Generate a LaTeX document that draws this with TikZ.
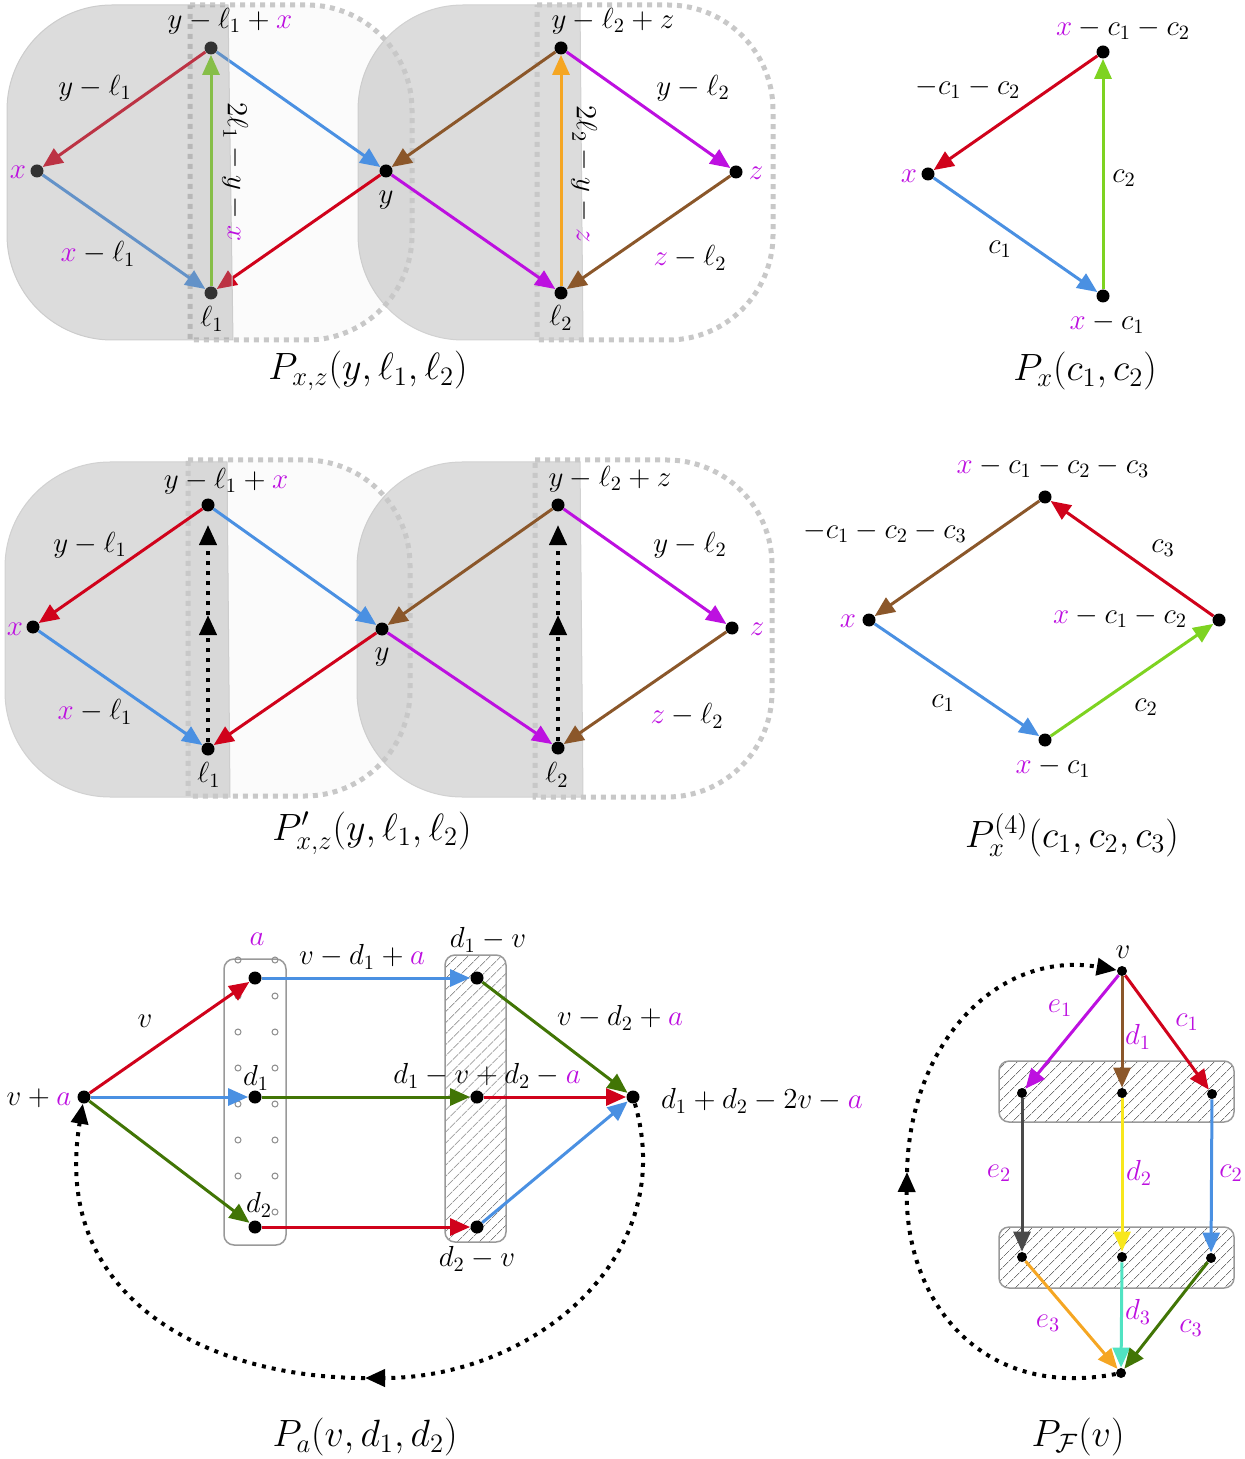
\RequirePackage{fix-cm}
\documentclass[tikz,border=0pt]{standalone}
\usetikzlibrary{arrows.meta,patterns.meta}
\definecolor{cred}{HTML}{D0021B}
\definecolor{cblue}{HTML}{4A90E2}
\definecolor{cgreen}{HTML}{7ED321}
\definecolor{cdgreen}{HTML}{417505}
\definecolor{corange}{HTML}{F5A623}
\definecolor{cbrown}{HTML}{8B572A}
\definecolor{cpurple}{HTML}{BD10E0}
\definecolor{cyellow}{HTML}{F8E71C}
\definecolor{cturq}{HTML}{50E3C2}
\definecolor{cdgray}{HTML}{4A4A4A}
\definecolor{regiongray}{HTML}{DCDCDC}
\definecolor{dotgray}{HTML}{C8C8C8}
\newcommand\mg[1]{{\color{cpurple}#1}}
% left-rounded region: [opts]{left}{top}{bottom}{right top}{right bottom}
\newcommand\myLeft[6][]{\path[#1] (#5,#3) -- ({#2+105},#3) .. controls ({#2+47},#3) and (#2,{#3+47}) .. (#2,{#3+105}) -- (#2,{#4-105}) .. controls (#2,{#4-47}) and ({#2+47},#4) .. ({#2+105},#4) -- (#6,#4) -- cycle;}
% right-rounded region: [opts]{left}{top}{bottom}{right}
\newcommand\myRight[5][]{\path[#1] (#2,#3) -- ({#5-105},#3) .. controls ({#5-47},#3) and (#5,{#3+47}) .. (#5,{#3+105}) -- (#5,{#4-105}) .. controls (#5,{#4-47}) and ({#5-47},#4) .. ({#5-105},#4) -- (#2,#4) -- cycle;}
\tikzset{
  pt/.style={circle,fill=black,inner sep=0pt,minimum size=6.5pt},
  spt/.style={circle,fill=black,inner sep=0pt,minimum size=5pt},
  arr/.style={line width=1.5pt,-{Triangle[length=10pt,width=8.5pt]}},
  lbl/.style={font=\fontsize{14.5}{17}\selectfont,inner sep=0pt},
  captxt/.style={font=\fontsize{19}{23}\selectfont,inner sep=0pt},
  dotarr/.style={black,line width=2pt,dash pattern=on 2pt off 3pt,-{Triangle[length=10pt,width=8.5pt]}},
  region/.style={fill=regiongray,draw=black!18,line width=0.5pt},
  bound/.style={draw=dotgray,line width=2.5pt,dash pattern=on 2.5pt off 2.5pt},
  boundf/.style={bound,fill=black,fill opacity=0.015},
  boxd/.style={draw=black!40,line width=0.75pt,rounded corners=5pt},
  hatch/.style={boxd,pattern={Lines[angle=45,distance=4pt,line width=0.4pt]},pattern color=black!55},
}
\begin{document}
\begin{tikzpicture}[x=0.5pt,y=-0.5pt]
\useasboundingbox (0,0) rectangle (1245,1459);

%================ ROW 1 LEFT ================
\myLeft[region]{358}{5}{340}{580}{583}
\myRight[boundf]{190}{5}{340}{412}
\myRight[bound]{537}{5}{340}{773}
\node[pt] (A1) at (211,48) {};
\node[pt] (X1) at (37,171) {};
\node[pt] (L1) at (211,293) {};
\node[pt] (Y1) at (386,171) {};
\node[pt] (B1) at (561,48) {};
\node[pt] (Z1) at (736,172) {};
\node[pt] (M1) at (561,293) {};
\draw[arr,cred] (A1) -- (X1);
\draw[arr,cblue] (X1) -- (L1);
\draw[arr,cgreen] (L1) -- (A1);
\draw[arr,cblue] (A1) -- (Y1);
\draw[arr,cred] (Y1) -- (L1);
\draw[arr,cbrown] (B1) -- (Y1);
\draw[arr,cpurple] (Y1) -- (M1);
\draw[arr,corange] (M1) -- (B1);
\draw[arr,cpurple] (B1) -- (Z1);
\draw[arr,cbrown] (Z1) -- (M1);
\myLeft[fill=black!41,fill opacity=0.337,draw=black!20,line width=0.5pt]{7}{5}{340}{228}{233}
\node[lbl] (ta1) at (230,21) {$y-\ell_1+\mg{x}$};
\node[lbl] (ta2) at (95,88) {$y-\ell_1$};
\node[lbl] (ta3) at (98,254) {$\mg{x}-\ell_1$};
\node[lbl] (ta4) at (18,172) {$\mg{x}$};
\node[lbl] (ta5) at (212,319) {$\ell_1$};
\node[lbl] (ta6) at (386,200) {$y$};
\node[lbl,rotate=-90] (ta7) at (235,172) {$2\ell_1-y-\mg{x}$};
\node[lbl] (tb1) at (613,21) {$y-\ell_2+z$};
\node[lbl] (tb2) at (693,88) {$y-\ell_2$};
\node[lbl] (tb3) at (690,258) {$\mg{z}-\ell_2$};
\node[lbl] (tb4) at (756,173) {$\mg{z}$};
\node[lbl] (tb5) at (561,318) {$\ell_2$};
\node[lbl,rotate=-90] (tb7) at (584,174) {$2\ell_2-y-\mg{z}$};
\node[captxt] (cap1) at (368,371) {$P_{x,z}(y,\ell_1,\ell_2)$};

%================ ROW 1 RIGHT ================
\node[pt] (PX) at (928,174) {};
\node[pt] (PT) at (1103,52) {};
\node[pt] (PB) at (1103,296) {};
\draw[arr,cred] (PT) -- (PX);
\draw[arr,cblue] (PX) -- (PB);
\draw[arr,cgreen] (PB) -- (PT);
\node[lbl] (tc1) at (1123,29) {$\mg{x}-c_1-c_2$};
\node[lbl] (tc2) at (968,88) {$-c_1-c_2$};
\node[lbl] (tc3) at (909,176) {$\mg{x}$};
\node[lbl] (tc4) at (1000,249) {$c_1$};
\node[lbl] (tc5) at (1124,178) {$c_2$};
\node[lbl] (tc6) at (1107,323) {$\mg{x}-c_1$};
\node[captxt] (cap2) at (1085,371) {$P_x(c_1,c_2)$};

%================ ROW 2 LEFT ================
\myLeft[region]{5}{462}{797}{227}{230}
\myLeft[region]{357}{462}{797}{580}{583}
\myRight[boundf]{188}{460}{796}{410}
\myRight[bound]{535}{460}{797}{772}
\node[pt] (A2) at (208,505) {};
\node[pt] (X2) at (33,627) {};
\node[pt] (L2) at (208,749) {};
\node[pt] (Y2) at (382,629) {};
\node[pt] (B2) at (558,505) {};
\node[pt] (Z2) at (732,628) {};
\node[pt] (M2) at (558,748) {};
\coordinate (l1m) at (208,615);
\coordinate (l1t) at (208,525);
\coordinate (l2m) at (558,615);
\coordinate (l2t) at (558,525);
\draw[arr,cred] (A2) -- (X2);
\draw[arr,cblue] (X2) -- (L2);
\draw[arr,cblue] (A2) -- (Y2);
\draw[arr,cred] (Y2) -- (L2);
\draw[arr,cbrown] (B2) -- (Y2);
\draw[arr,cpurple] (Y2) -- (M2);
\draw[arr,cpurple] (B2) -- (Z2);
\draw[arr,cbrown] (Z2) -- (M2);
\draw[dotarr] (L2) -- (l1m);
\draw[dotarr] (l1m) -- (l1t);
\draw[dotarr] (M2) -- (l2m);
\draw[dotarr] (l2m) -- (l2t);
\node[lbl] (td1) at (226,481) {$y-\ell_1+\mg{x}$};
\node[lbl] (td2) at (90,545) {$y-\ell_1$};
\node[lbl] (td3) at (95,712) {$\mg{x}-\ell_1$};
\node[lbl] (td4) at (15,629) {$\mg{x}$};
\node[lbl] (td5) at (209,775) {$\ell_1$};
\node[lbl] (td6) at (382,657) {$y$};
\node[lbl] (te1) at (610,479) {$y-\ell_2+z$};
\node[lbl] (te2) at (690,545) {$y-\ell_2$};
\node[lbl] (te3) at (687,716) {$\mg{z}-\ell_2$};
\node[lbl] (te4) at (757,629) {$\mg{z}$};
\node[lbl] (te5) at (557,775) {$\ell_2$};
\node[captxt] (cap3) at (372,833) {$P'_{x,z}(y,\ell_1,\ell_2)$};

%================ ROW 2 RIGHT ================
\node[pt] (QX) at (869,620) {};
\node[pt] (QB) at (1045,740) {};
\node[pt] (QR) at (1219,620) {};
\node[pt] (QT) at (1045,497) {};
\draw[arr,cblue] (QX) -- (QB);
\draw[arr,cgreen] (QB) -- (QR);
\draw[arr,cred] (QR) -- (QT);
\draw[arr,cbrown] (QT) -- (QX);
\node[lbl] (tf1) at (1053,467) {$\mg{x}-c_1-c_2-c_3$};
\node[lbl] (tf2) at (885,532) {$-c_1-c_2-c_3$};
\node[lbl] (tf3) at (1163,548) {$c_3$};
\node[lbl] (tf4) at (848,621) {$\mg{x}$};
\node[lbl] (tf5) at (1120,617) {$\mg{x}-c_1-c_2$};
\node[lbl] (tf6) at (943,703) {$c_1$};
\node[lbl] (tf7) at (1146,707) {$c_2$};
\node[lbl] (tf8) at (1053,767) {$\mg{x}-c_1$};
\node[captxt] (cap4) at (1072,835) {$P^{(4)}_x(c_1,c_2,c_3)$};

%================ ROW 3 LEFT ================
\draw[boxd] (224,959) rectangle (286,1245);
\foreach \yy in {960,996,...,1212} {
  \foreach \xx in {238,275} { \draw[black!45,line width=0.5pt] (\xx,\yy) circle (1.5pt); }
}
\draw[hatch] (445,955) rectangle (506,1242);
\node[pt] (VA) at (84,1097) {};
\node[pt] (NA) at (255,978) {};
\node[pt] (ND1) at (255,1097) {};
\node[pt] (ND2) at (255,1227) {};
\node[pt] (E1) at (477,978) {};
\node[pt] (EM) at (477,1097) {};
\node[pt] (E2) at (477,1227) {};
\node[pt] (RR) at (633,1097) {};
\draw[arr,cred] (VA) -- (NA);
\draw[arr,cblue] (VA) -- (ND1);
\draw[arr,cdgreen] (VA) -- (ND2);
\draw[arr,cblue] (NA) -- (E1);
\draw[arr,cdgreen] (ND1) -- (EM);
\draw[arr,cred] (ND2) -- (E2);
\draw[arr,cdgreen] (E1) -- (RR);
\draw[arr,cred] (EM) -- (RR);
\draw[arr,cblue] (E2) -- (RR);
\coordinate (BL) at (365,1378);
\draw[dotarr] (RR) .. controls (680,1260) and (530,1378) .. (BL);
\draw[dotarr] (BL) .. controls (210,1378) and (50,1300) .. (VA);
\node[lbl] (tg1) at (145,1021) {$v$};
\node[lbl] (tg2) at (257,939) {$\mg{a}$};
\node[lbl] (tg3) at (362,957) {$v-d_1+\mg{a}$};
\node[lbl] (tg4) at (488,940) {$d_1-v$};
\node[lbl] (tg5) at (620,1018) {$v-d_2+\mg{a}$};
\node[lbl] (tg6) at (39,1098) {$v+\mg{a}$};
\node[lbl] (tg7) at (256,1078) {$d_1$};
\node[lbl] (tg8) at (259,1205) {$d_2$};
\node[lbl] (tg9) at (487,1076) {$d_1-v+d_2-\mg{a}$};
\node[lbl] (tg10) at (762,1101) {$d_1+d_2-2v-\mg{a}$};
\node[lbl] (tg11) at (477,1259) {$d_2-v$};
\node[captxt] (cap5) at (365,1437) {$P_a(v,d_1,d_2)$};

%================ ROW 3 RIGHT ================
\draw[hatch] (999,1061) rectangle (1234,1122);
\draw[hatch] (999,1227) rectangle (1234,1288);
\node[spt] (V) at (1122,971) {};
\node[spt] (S1L) at (1022,1093) {};
\node[spt] (S1M) at (1122,1093) {};
\node[spt] (S1R) at (1212,1094) {};
\node[spt] (S2L) at (1022,1257) {};
\node[spt] (S2M) at (1122,1257) {};
\node[spt] (S2R) at (1211,1258) {};
\node[spt] (BT) at (1121,1373) {};
\draw[arr,cpurple] (V) -- (S1L);
\draw[arr,cbrown] (V) -- (S1M);
\draw[arr,cred] (V) -- (S1R);
\draw[arr,cdgray] (S1L) -- (S2L);
\draw[arr,cyellow] (S1M) -- (S2M);
\draw[arr,cblue] (S1R) -- (S2R);
\draw[arr,corange] (S2L) -- (BT);
\draw[arr,cturq] (S2M) -- (BT);
\draw[arr,cdgreen] (S2R) -- (BT);
\coordinate (LM) at (907,1172);
\draw[dotarr] (BT) .. controls (980,1400) and (905,1300) .. (LM);
\draw[dotarr] (LM) .. controls (910,1040) and (1000,950) .. (V);
\node[lbl] (th1) at (1123,952) {$v$};
\node[lbl] (th2) at (1060,1008) {$\mg{e_1}$};
\node[lbl] (th3) at (1138,1037) {$\mg{d_1}$};
\node[lbl] (th4) at (1187,1022) {$\mg{c_1}$};
\node[lbl] (th5) at (999,1173) {$\mg{e_2}$};
\node[lbl] (th6) at (1139,1173) {$\mg{d_2}$};
\node[lbl] (th7) at (1231,1173) {$\mg{c_2}$};
\node[lbl] (th8) at (1048,1323) {$\mg{e_3}$};
\node[lbl] (th9) at (1138,1312) {$\mg{d_3}$};
\node[lbl] (th10) at (1191,1328) {$\mg{c_3}$};
\node[captxt] (cap6) at (1078,1437) {$P_{\mathcal{F}}(v)$};
\end{tikzpicture}
\end{document}
